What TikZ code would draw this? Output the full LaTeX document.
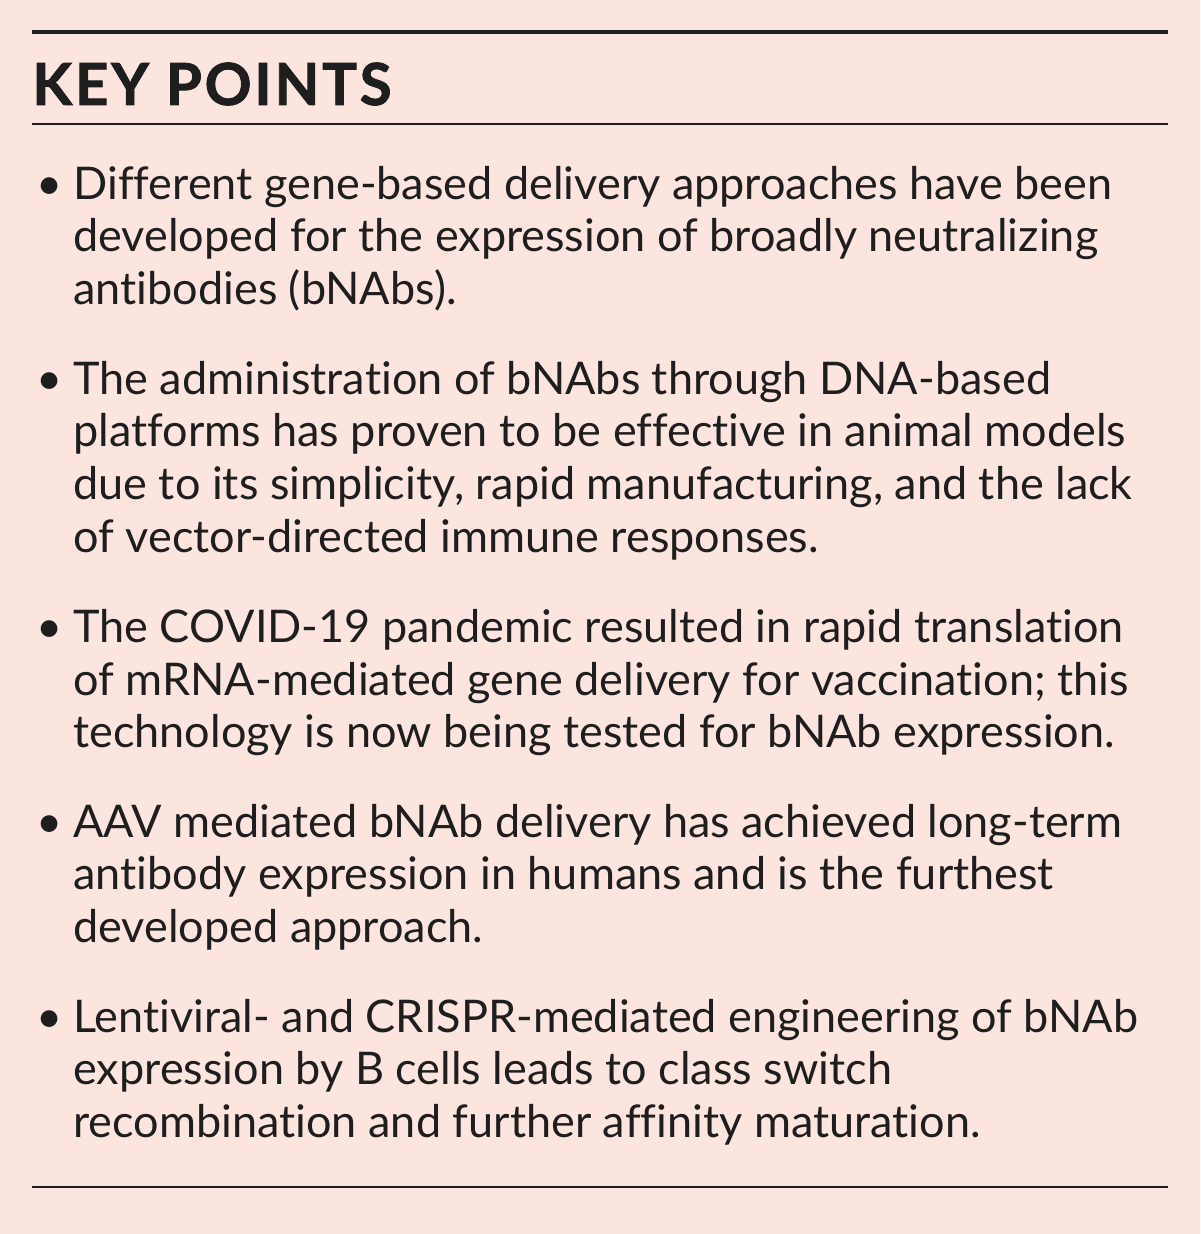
\documentclass[tikz,border=0pt]{standalone}
\usepackage{fontspec}
\setmainfont{Lato}[Ligatures=NoCommon]
\definecolor{bg}{RGB}{251,229,222}
\definecolor{ink}{RGB}{30,30,30}
\begin{document}
\begin{tikzpicture}[x=0.5pt,y=-0.5pt,
  line/.style={anchor=base west,inner sep=0,text=ink,font=\fontsize{22.5}{27}\selectfont},
  bul/.style={anchor=base west,inner sep=0,text=ink,font=\fontsize{22.5}{27}\selectfont}]
\fill[bg] (0,0) rectangle (1200,1234);
\useasboundingbox (0,0) rectangle (1200,1234);
\draw[ink,line width=2pt] (32,32) -- (1168,32);
\draw[ink,line width=0.8pt] (32,124) -- (1168,124);
\draw[ink,line width=0.8pt] (32,1187) -- (1168,1187);
\node[anchor=base west,inner sep=0,text=ink,font=\fontsize{29}{32}\bfseries\addfontfeature{LetterSpace=5,FakeBold=1.5}\selectfont] (title) at (32,105) {KEY POINTS};
\foreach \y/\t [count=\i] in {
 200/{Different gene-based delivery approaches have been},
 252/{developed for the expression of broadly neutralizing},
 305/{antibodies (bNAbs).},
 395/{The administration of bNAbs through DNA-based},
 447/{platforms has proven to be effective in animal models},
 499/{due to its simplicity, rapid manufacturing, and the lack},
 552/{of vector-directed immune responses.},
 642/{The COVID-19 pandemic resulted in rapid translation},
 695/{of mRNA-mediated gene delivery for vaccination; this},
 747/{technology is now being tested for bNAb expression.},
 837/{AAV mediated bNAb delivery has achieved long-term},
 889/{antibody expression in humans and is the furthest},
 942/{developed approach.},
 1032/{Lentiviral- and CRISPR-mediated engineering of bNAb},
 1084/{expression by B cells leads to class switch},
 1137/{recombination and further affinity maturation.}}
 \node[line] (l\i) at (73,\y) {\t};
\foreach \y [count=\i] in {200,395,642,837,1032}
 \node[bul] (b\i) at (36,\y) {•};
\end{tikzpicture}
\end{document}
